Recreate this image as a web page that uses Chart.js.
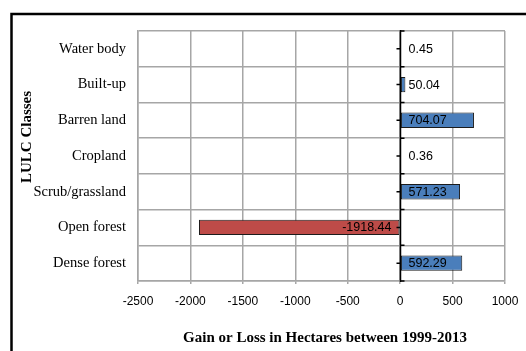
<!DOCTYPE html>
<html>
<head>
<meta charset="utf-8">
<script src="https://cdn.jsdelivr.net/npm/chart.js@4/dist/chart.umd.min.js"></script>
<style>
  html, body { margin: 0; padding: 0; background: #ffffff; }
  canvas { display: block; }
</style>
</head>
<body>
<canvas id="c" width="526" height="351"></canvas>
<script>
// Land use / land cover change, 1999-2013 (hectares)
const categories = ['Water body', 'Built-up', 'Barren land', 'Cropland', 'Scrub/grassland', 'Open forest', 'Dense forest'];
const changeHa = [0.45, 50.04, 704.07, 0.36, 571.23, -1918.44, 592.29];
const xTicks = [-2500, -2000, -1500, -1000, -500, 0, 500, 1000];
const xTitle = 'Gain or Loss in Hectares between 1999-2013';
const yTitle = 'LULC Classes';

const GAIN = '#4A7EBB';
const LOSS = '#BE4B48';
const GRID = '#A6A6A6';
const SERIF = '"Liberation Serif", "Times New Roman", serif';
const SANS = '"Liberation Sans", Arial, sans-serif';

// Outer frame, axis titles, zero axis with tick marks, value labels
const decorations = {
  id: 'decorations',
  beforeDraw(chart) {
    const ctx = chart.ctx;
    ctx.save();
    ctx.strokeStyle = '#000';
    ctx.lineWidth = 2.5;
    ctx.beginPath();
    ctx.moveTo(11.5, 360);
    ctx.lineTo(11.5, 14);
    ctx.lineTo(540, 14);
    ctx.stroke();
    ctx.restore();
  },
  afterDatasetsDraw(chart) {
    const ctx = chart.ctx;
    const xs = chart.scales.x, ys = chart.scales.y;
    const area = chart.chartArea;
    const x0 = Math.round(xs.getPixelForValue(0)) + 0.5;
    ctx.save();
    // zero axis
    ctx.strokeStyle = '#000';
    ctx.lineWidth = 1.5;
    ctx.beginPath();
    ctx.moveTo(x0, area.top - 1);
    ctx.lineTo(x0, area.bottom + 1);
    const n = categories.length;
    const step = (area.bottom - area.top) / n;
    for (let i = 0; i <= n; i++) {
      const y = area.top + i * step;
      ctx.moveTo(x0, y);
      ctx.lineTo(x0 + 4, y);
    }
    for (let i = 0; i < n; i++) {
      const y = ys.getPixelForValue(i);
      ctx.moveTo(x0 - 4, y);
      ctx.lineTo(x0, y);
    }
    ctx.stroke();

    // value labels
    ctx.fillStyle = '#000';
    ctx.font = '12.5px ' + SANS;
    ctx.textBaseline = 'middle';
    const meta = chart.getDatasetMeta(0);
    meta.data.forEach((bar, i) => {
      const v = changeHa[i];
      const txt = v.toFixed(2);
      if (v >= 0) {
        ctx.textAlign = 'left';
        ctx.fillText(txt, x0 + 8, bar.y + 0.5);
      } else {
        ctx.textAlign = 'right';
        ctx.fillText(txt, x0 - 9, bar.y + 0.5);
      }
    });

    // axis titles
    ctx.font = 'bold 15px ' + SERIF;
    ctx.textAlign = 'center';
    ctx.fillText(xTitle, 325, 338);
    ctx.translate(27, 137);
    ctx.rotate(-Math.PI / 2);
    ctx.fillText(yTitle, 0, 0);
    ctx.restore();
  }
};

new Chart(document.getElementById('c'), {
  type: 'bar',
  data: {
    labels: categories,
    datasets: [{
      data: changeHa,
      backgroundColor: changeHa.map(v => (v < 0 ? LOSS : GAIN)),
      borderColor: '#1b1b1b',
      borderWidth: 1,
      borderSkipped: false,
      categoryPercentage: 1,
      barPercentage: 0.43
    }]
  },
  options: {
    indexAxis: 'y',
    responsive: false,
    animation: false,
    events: [],
    layout: { padding: { top: 31, right: 21, left: 0, bottom: 0 } },
    plugins: {
      legend: { display: false },
      tooltip: { enabled: false },
      title: { display: false }
    },
    scales: {
      x: {
        type: 'linear',
        min: -2500,
        max: 1000,
        afterBuildTicks(scale) { scale.ticks = xTicks.map(v => ({ value: v })); },
        afterFit(scale) {
          scale.height = 70;
          // keep the plot edge fixed regardless of tick label widths
          scale.paddingLeft = 0;
          scale.paddingRight = 0;
        },
        grid: { color: GRID, lineWidth: 1.5, tickLength: 3, drawTicks: true },
        border: { display: true, color: GRID, width: 1.5 },
        ticks: {
          color: '#000',
          font: { family: SANS, size: 12 },
          padding: 10,
          maxRotation: 0,
          autoSkip: false,
          callback: v => String(v)
        }
      },
      y: {
        afterFit(scale) { scale.width = 138; },
        grid: { color: GRID, lineWidth: 1.5, offset: true, drawTicks: false },
        border: { display: true, color: GRID, width: 1.5 },
        ticks: {
          color: '#000',
          font: { family: SERIF, size: 14.5 },
          padding: 12
        }
      }
    }
  },
  plugins: [decorations]
});
</script>
</body>
</html>
